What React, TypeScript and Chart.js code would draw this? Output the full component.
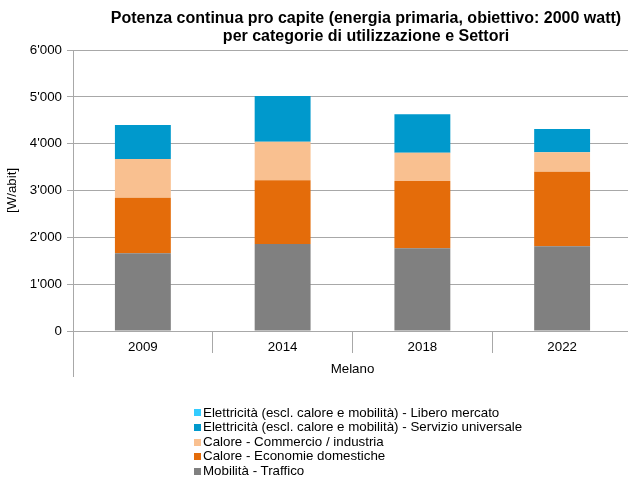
import React, { useEffect, useRef } from "react";
import { Chart, registerables } from "chart.js";

Chart.register(...registerables);

const titleLines = [
  "Potenza continua pro capite (energia primaria, obiettivo: 2000 watt)",
  "per categorie di utilizzazione e Settori",
];
const categories = ["2009", "2014", "2018", "2022"];
const groupLabel = "Melano";
const yAxisTitle = "[W/abit]";
const yMin = 0;
const yMax = 6000;
const yStep = 1000;

const mobilitaTraffico = [1660, 1858, 1765, 1808];
const caloreEconomie = [1187, 1360, 1438, 1594];
const caloreCommercio = [827, 824, 605, 413];
const elettricitaServizio = [726, 976, 819, 498];
const elettricitaLibero = [0, 0, 0, 0];

const seriesLabels = [
  "Mobilità - Traffico",
  "Calore - Economie domestiche",
  "Calore - Commercio / industria",
  "Elettricità (escl. calore e mobilità) - Servizio universale",
  "Elettricità (escl. calore e mobilità) - Libero mercato",
];
const seriesValues = [
  mobilitaTraffico,
  caloreEconomie,
  caloreCommercio,
  elettricitaServizio,
  elettricitaLibero,
];
const seriesColors = ["#808080", "#E46C0A", "#F9C090", "#0099CC", "#33CCFF"];

const FONT = "'Liberation Sans', Arial, sans-serif";
const GRID = "#a8a8a8";

const formatThousands = (v: number) =>
  String(v).replace(/\B(?=(\d{3})+(?!\d))/g, "'");

const groupLinePlugin = {
  id: "groupLine",
  afterDraw(chart: any) {
    const { ctx, chartArea } = chart;
    ctx.save();
    ctx.strokeStyle = GRID;
    ctx.lineWidth = 1;
    const x = Math.round(chartArea.left) + 0.5;
    ctx.beginPath();
    ctx.moveTo(x, chartArea.bottom);
    ctx.lineTo(x, chartArea.bottom + 46);
    ctx.stroke();
    ctx.restore();
  },
};

export default function App() {
  const ref = useRef<HTMLCanvasElement>(null);

  useEffect(() => {
    if (!ref.current) return;
    Chart.defaults.font.family = FONT;
    const chart = new Chart(ref.current, {
      type: "bar",
      data: {
        labels: categories,
        datasets: seriesValues.map((vals, i) => ({
          label: seriesLabels[i],
          data: vals,
          backgroundColor: seriesColors[i],
          borderWidth: 0,
          barPercentage: 0.4,
          categoryPercentage: 1,
        })),
      },
      options: {
        responsive: false,
        devicePixelRatio: 1,
        animation: false,
        layout: { padding: { top: 50, left: 0, right: 100, bottom: 101 } },
        plugins: {
          legend: { display: false },
          tooltip: { enabled: false },
          title: { display: false },
        },
        scales: {
          x: {
            stacked: true,
            grid: {
              offset: true,
              drawOnChartArea: false,
              drawTicks: true,
              tickLength: 22,
              color: GRID,
            },
            border: { display: true, color: GRID },
            ticks: {
              padding: -14,
              color: "#000",
              font: { size: 13.33, family: FONT },
            },
            title: {
              display: true,
              text: groupLabel,
              color: "#000",
              font: { size: 13.33, family: FONT },
              padding: { top: 0, bottom: 4 },
            },
            afterFit: (s: any) => {
              s.height = 50;
            },
          },
          y: {
            stacked: true,
            min: yMin,
            max: yMax,
            ticks: {
              stepSize: yStep,
              padding: 5,
              color: "#000",
              font: { size: 13.33, family: FONT },
              callback: (v: any) => formatThousands(Number(v)),
            },
            grid: { color: GRID, tickLength: 6 },
            border: { display: true, color: GRID },
            title: {
              display: true,
              text: yAxisTitle,
              color: "#000",
              font: { size: 13.33, family: FONT },
              padding: { top: 4.7, bottom: 0 },
            },
            afterFit: (s: any) => {
              s.width = 73;
            },
          },
        },
      },
      plugins: [groupLinePlugin],
    });
    return () => chart.destroy();
  }, []);

  const legendOrder = seriesLabels.map((_, i) => i).reverse();

  return (
    <div
      style={{
        position: "fixed",
        left: 0,
        top: 0,
        width: 628,
        height: 482,
        overflow: "hidden",
        background: "#fff",
      }}
    >
      <div style={{ position: "relative", width: 732, height: 482 }}>
        <canvas
          ref={ref}
          width={732}
          height={482}
          style={{ display: "block", width: 732, height: 482 }}
        />
        <div
          style={{
            position: "absolute",
            left: 0,
            top: 9,
            width: 732,
            textAlign: "center",
            fontFamily: FONT,
            fontWeight: "bold",
            fontSize: 16,
            lineHeight: "17.5px",
            color: "#000",
          }}
        >
          {titleLines.map((t) => (
            <div key={t}>{t}</div>
          ))}
        </div>
        <div
          style={{
            position: "absolute",
            left: 194,
            top: 405.7,
            fontFamily: FONT,
            fontSize: 13.33,
            lineHeight: "14.6px",
            color: "#000",
            whiteSpace: "nowrap",
          }}
        >
          {legendOrder.map((i) => (
            <div key={i} style={{ display: "flex", alignItems: "center", height: 14.6 }}>
              <span
                style={{
                  display: "inline-block",
                  width: 7,
                  height: 7,
                  background: seriesColors[i],
                  marginRight: 2,
                }}
              />
              <span>{seriesLabels[i]}</span>
            </div>
          ))}
        </div>
      </div>
    </div>
  );
}
